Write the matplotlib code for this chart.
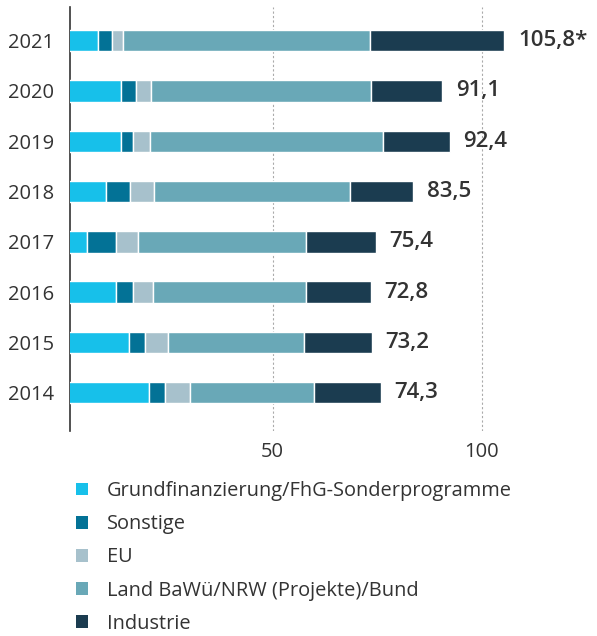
import numpy as np
import matplotlib.pyplot as plt
from matplotlib.patches import Patch

plt.rcParams['font.family'] = ['Open Sans', 'DejaVu Sans']

years = ['2014', '2015', '2016', '2017', '2018', '2019', '2020', '2021']
grund = [20.5, 15.7, 12.5, 5.6, 10.3, 13.7, 13.7, 8.3]
sonstige = [3.7, 3.7, 4.1, 6.9, 5.7, 2.9, 3.7, 3.3]
eu = [6.0, 5.6, 4.9, 5.3, 5.6, 4.0, 3.5, 2.7]
land = [29.8, 32.4, 36.5, 40.1, 46.9, 55.7, 52.7, 58.9]
industrie = [15.8, 16.3, 15.4, 16.7, 15.0, 16.0, 16.9, 32.2]
totals = ['74,3', '73,2', '72,8', '75,4', '83,5', '92,4', '91,1', '105,8*']

series = [
    ('Grundfinanzierung/FhG-Sonderprogramme', grund, '#17c0ea'),
    ('Sonstige', sonstige, '#037296'),
    ('EU', eu, '#a7c1cc'),
    ('Land BaWü/NRW (Projekte)/Bund', land, '#69a8b7'),
    ('Industrie', industrie, '#1b3c50'),
]
txt = '#333333'

fig = plt.figure(figsize=(5.97, 6.36), dpi=100)
ax = fig.add_axes([69.5/597, 1-431/636, 1-69.5/597, 424/636])

y = np.arange(len(years))
left = np.zeros(len(years))
for name, vals, col in series:
    ax.barh(y, vals, left=left, height=0.425, color=col, edgecolor='white', linewidth=1, zorder=3)
    left = left + np.array(vals)

for yi, end, lab in zip(y, left, totals):
    ax.text(end + 3.3, yi, lab, va='center', ha='left', fontsize=16, fontweight='semibold', color=txt)

ax.set_xlim(1.48, 127.5)
ax.set_ylim(-0.76, 7.67)
ax.set_yticks(y)
ax.set_yticklabels(years, fontsize=14.5, color=txt)
ax.set_xticks([50, 100])
ax.set_xticklabels(['50', '100'], fontsize=14.5, color=txt)
ax.tick_params(axis='both', length=0)
ax.tick_params(axis='y', pad=11)
ax.tick_params(axis='x', pad=8)
for s in ['top', 'right', 'bottom']:
    ax.spines[s].set_visible(False)
ax.spines['left'].set_color('#333333')
ax.spines['left'].set_linewidth(1.2)
ax.grid(axis='x', linestyle=(0, (2, 2)), color='#aaaaaa', linewidth=0.8, zorder=0)
ax.set_axisbelow(True)

handles = [Patch(facecolor=c, edgecolor='none', label=n) for n, v, c in series]
fig.legend(handles=handles, loc='upper left', bbox_to_anchor=(76/597, 1-481/636),
           frameon=False, fontsize=14.4, labelcolor=txt, handlelength=0.6, handleheight=0.6,
           handletextpad=0.95, labelspacing=0.66, borderaxespad=0, borderpad=0)

fig.savefig('out.png', dpi=100)
